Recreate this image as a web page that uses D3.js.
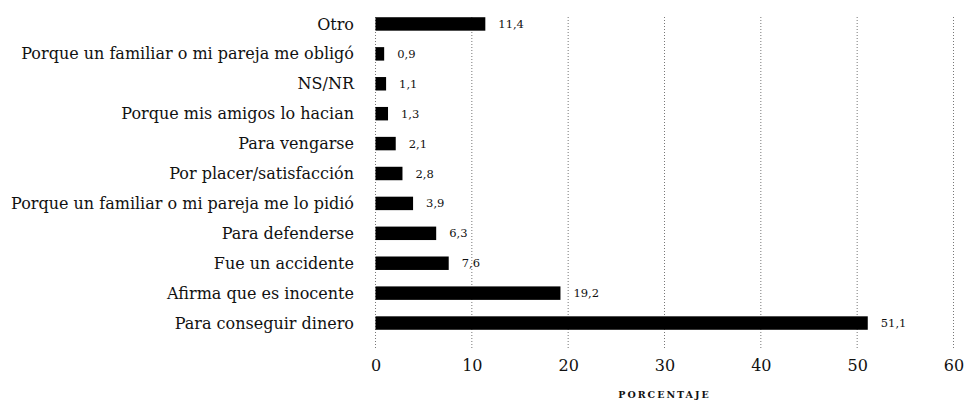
<!DOCTYPE html>
<html>
<head>
<meta charset="utf-8">
<script src="https://cdn.jsdelivr.net/npm/d3@7"></script>
<style>
  body { margin: 0; background: #fff; }
  svg text { font-family: "DejaVu Serif", serif; fill: #111; }
  .grid line { stroke: #777; stroke-dasharray: 1,2; }
</style>
</head>
<body>
<svg id="viz"></svg>
<script>
// ------------------------------------------------------------------
// DATA

var categories = [
  "Otro",
  "Porque un familiar o mi pareja me obligó",
  "NS/NR",
  "Porque mis amigos lo hacian",
  "Para vengarse",
  "Por placer/satisfacción",
  "Porque un familiar o mi pareja me lo pidió",
  "Para defenderse",
  "Fue un accidente",
  "Afirma que es inocente",
  "Para conseguir dinero"
];

var values = [11.4, 0.9, 1.1, 1.3, 2.1, 2.8, 3.9, 6.3, 7.6, 19.2, 51.1];

var xTicks = [0, 10, 20, 30, 40, 50, 60];

var axisTitle = "PORCENTAJE";

// ------------------------------------------------------------------
// SETUP

var w = 969;
var h = 401;
var viz = d3.select("#viz").attr("width", w).attr("height", h);

var left = 375.5, right = 953.5;
var plotTop = 17, plotBottom = 348;

var x = d3.scaleLinear().domain([0, 60]).range([left, right]);
var y = d3.scaleBand().domain(categories).range([9, 338])
  .paddingInner(0.55).paddingOuter(0.275);

var rows = categories.map(function(c, i) { return {name: c, value: values[i]}; });

// grid lines
viz.append("g").attr("class", "grid")
  .selectAll("line")
  .data(xTicks)
  .enter()
  .append("line")
  .attr("x1", function(d) { return x(d); })
  .attr("x2", function(d) { return x(d); })
  .attr("y1", plotTop)
  .attr("y2", plotBottom);

// bars
viz.selectAll("rect.bar")
  .data(rows)
  .enter()
  .append("rect")
  .attr("class", "bar")
  .attr("x", x(0))
  .attr("y", function(d) { return y(d.name); })
  .attr("width", function(d) { return x(d.value) - x(0); })
  .attr("height", y.bandwidth())
  .attr("fill", "#000");

// value labels
viz.selectAll("text.val")
  .data(rows)
  .enter()
  .append("text")
  .attr("class", "val")
  .attr("x", function(d) { return x(d.value) + 13; })
  .attr("y", function(d) { return y(d.name) + y.bandwidth() / 2; })
  .attr("dy", "0.35em")
  .attr("font-size", 11.5)
  .text(function(d) { return String(d.value).replace(".", ","); });

// category labels
viz.selectAll("text.cat")
  .data(rows)
  .enter()
  .append("text")
  .attr("class", "cat")
  .attr("x", 354)
  .attr("y", function(d) { return y(d.name) + y.bandwidth() / 2; })
  .attr("dy", "0.35em")
  .attr("text-anchor", "end")
  .attr("font-size", 16)
  .text(function(d) { return d.name; });

// x axis
var xAxis = d3.axisBottom(x).tickValues(xTicks).tickSize(0).tickPadding(0);
var ax = viz.append("g").attr("transform", "translate(0," + 360 + ")").call(xAxis);
ax.select(".domain").remove();
ax.selectAll("text")
  .attr("font-size", 16)
  .attr("dy", "0.71em")
  .style("font-family", "'DejaVu Serif', serif");

// axis title
viz.append("text")
  .attr("x", (left + right) / 2)
  .attr("y", 398)
  .attr("text-anchor", "middle")
  .attr("font-size", 9.5)
  .attr("font-weight", "bold")
  .attr("letter-spacing", 2)
  .text(axisTitle);
</script>
</body>
</html>
